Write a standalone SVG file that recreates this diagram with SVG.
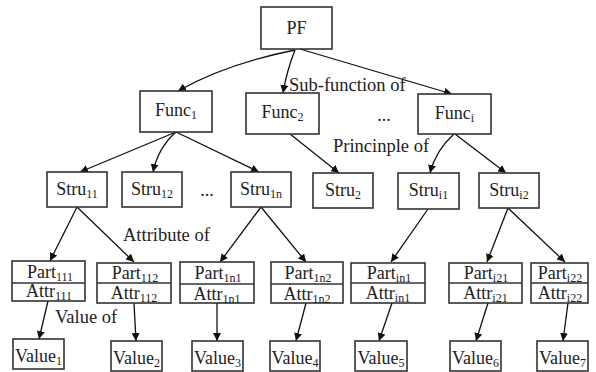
<svg xmlns="http://www.w3.org/2000/svg" width="596" height="372" viewBox="0 0 596 372" font-family="'Liberation Serif', 'Times New Roman', serif">
<defs>
<marker id="ah" viewBox="0 0 10 10" refX="10" refY="5" markerWidth="8" markerHeight="8" markerUnits="userSpaceOnUse" orient="auto">
<path d="M0,0 L10,5 L0,10 z" fill="#111"/>
</marker>
</defs>
<style>
.box{fill:#fff;stroke:#333;stroke-width:1.6}
.div{stroke:#333;stroke-width:1.4}
text{font-family:'Liberation Serif','Times New Roman',serif;font-size:18px;fill:#222}
.lb{font-size:18.5px}
.t{text-anchor:middle}
.s{font-size:12px}
.e{fill:none;stroke:#111;stroke-width:1.3;marker-end:url(#ah)}
</style>
<rect width="596" height="372" fill="#fff"/>
<g id="connectors">
<path class="e" d="M295,50 Q225,64 178,91"/>
<path class="e" d="M295,50 Q287,70 283,93"/>
<path class="e" d="M300,49 L452,94"/>
<path class="e" d="M176,132 L80,172"/>
<path class="e" d="M176,132 Q158,148 153,172"/>
<path class="e" d="M176,132 L259,172"/>
<path class="e" d="M290,134 L339,173"/>
<path class="e" d="M454,134 Q436,150 430,173"/>
<path class="e" d="M455,134 L506,173"/>
<path class="e" d="M77,207 L50,261"/>
<path class="e" d="M77,207 L134,262"/>
<path class="e" d="M261,207 L220,262"/>
<path class="e" d="M261,207 L306,262"/>
<path class="e" d="M428,209 L391,262"/>
<path class="e" d="M508,208 L487,262"/>
<path class="e" d="M508,208 L565,262"/>
<path class="e" d="M48,301 L39,339"/>
<path class="e" d="M134,303 L136,341"/>
<path class="e" d="M217,303 L217,341"/>
<path class="e" d="M306,303 L296,341"/>
<path class="e" d="M392,303 L379,341"/>
<path class="e" d="M488,303 L476,341"/>
<path class="e" d="M568,303 L563,341"/>
</g>
<g id="labels">
<text class="lb" x="289" y="91">Sub-function of</text>
<text class="t" x="384" y="121">...</text>
<text class="lb" x="333" y="152">Princinple of</text>
<text class="t" x="207" y="196">...</text>
<text class="lb" x="123" y="241">Attribute of</text>
<text class="lb" x="55" y="323">Value of</text>
</g>
<g id="PF"><rect class="box" x="261" y="7" width="71" height="42"/><text class="t" x="296.5" y="34">PF</text></g>
<g id="Func1"><rect class="box" x="140" y="91" width="72" height="41"/><text class="t" x="176" y="116">Func<tspan class="s" dy="3">1</tspan></text></g>
<g id="Func2"><rect class="box" x="246" y="93" width="73" height="41"/><text class="t" x="282.5" y="118">Func<tspan class="s" dy="3">2</tspan></text></g>
<g id="Funci"><rect class="box" x="418" y="94" width="73" height="40"/><text class="t" x="454.5" y="119">Func<tspan class="s" dy="3">i</tspan></text></g>
<g id="Stru11"><rect class="box" x="47" y="172" width="60" height="35"/><text class="t" x="77" y="195">Stru<tspan class="s" dy="3">11</tspan></text></g>
<g id="Stru12"><rect class="box" x="122" y="172" width="60" height="35"/><text class="t" x="152" y="195">Stru<tspan class="s" dy="3">12</tspan></text></g>
<g id="Stru1n"><rect class="box" x="231" y="172" width="60" height="35"/><text class="t" x="261" y="195">Stru<tspan class="s" dy="3">1n</tspan></text></g>
<g id="Stru2"><rect class="box" x="313" y="173" width="60" height="35"/><text class="t" x="343" y="196">Stru<tspan class="s" dy="3">2</tspan></text></g>
<g id="Strui1"><rect class="box" x="398" y="173" width="61" height="36"/><text class="t" x="428.5" y="196">Stru<tspan class="s" dy="3">i1</tspan></text></g>
<g id="Strui2"><rect class="box" x="479" y="173" width="60" height="35"/><text class="t" x="509" y="196">Stru<tspan class="s" dy="3">i2</tspan></text></g>
<g id="Part111"><rect class="box" x="12" y="261" width="73" height="40"/><line class="div" x1="12" y1="283" x2="85" y2="283"/><text class="t" x="50" y="278">Part<tspan class="s" dy="3">111</tspan></text><text class="t" x="49" y="297">Attr<tspan class="s" dy="3">111</tspan></text></g>
<g id="Part112"><rect class="box" x="97" y="263" width="74" height="40"/><line class="div" x1="97" y1="283" x2="171" y2="283"/><text class="t" x="135" y="279">Part<tspan class="s" dy="3">112</tspan></text><text class="t" x="134" y="299">Attr<tspan class="s" dy="3">112</tspan></text></g>
<g id="Part1n1"><rect class="box" x="180" y="262" width="74" height="41"/><line class="div" x1="180" y1="284" x2="254" y2="284"/><text class="t" x="218" y="279">Part<tspan class="s" dy="3">1n1</tspan></text><text class="t" x="217" y="300">Attr<tspan class="s" dy="3">1n1</tspan></text></g>
<g id="Part1n2"><rect class="box" x="271" y="262" width="72" height="41"/><line class="div" x1="271" y1="284" x2="343" y2="284"/><text class="t" x="308" y="279">Part<tspan class="s" dy="3">1n2</tspan></text><text class="t" x="307" y="300">Attr<tspan class="s" dy="3">1n2</tspan></text></g>
<g id="Partin1"><rect class="box" x="351" y="263" width="74" height="40"/><line class="div" x1="351" y1="283" x2="425" y2="283"/><text class="t" x="389" y="279">Part<tspan class="s" dy="3">in1</tspan></text><text class="t" x="388" y="299">Attr<tspan class="s" dy="3">in1</tspan></text></g>
<g id="Parti21"><rect class="box" x="449" y="263" width="73" height="40"/><line class="div" x1="449" y1="283" x2="522" y2="283"/><text class="t" x="486" y="279">Part<tspan class="s" dy="3">i21</tspan></text><text class="t" x="485.5" y="299">Attr<tspan class="s" dy="3">i21</tspan></text></g>
<g id="Parti22"><rect class="box" x="531" y="263" width="57" height="40"/><line class="div" x1="531" y1="283" x2="588" y2="283"/><text class="t" x="560" y="279">Part<tspan class="s" dy="3">i22</tspan></text><text class="t" x="560" y="299">Attr<tspan class="s" dy="3">i22</tspan></text></g>
<g id="Value1"><rect class="box" x="13" y="339" width="51" height="30"/><text class="t" x="38.5" y="362">Value<tspan class="s" dy="3">1</tspan></text></g>
<g id="Value2"><rect class="box" x="111" y="341" width="51" height="30"/><text class="t" x="136.5" y="364">Value<tspan class="s" dy="3">2</tspan></text></g>
<g id="Value3"><rect class="box" x="192" y="341" width="51" height="30"/><text class="t" x="217.5" y="364">Value<tspan class="s" dy="3">3</tspan></text></g>
<g id="Value4"><rect class="box" x="270" y="341" width="50" height="30"/><text class="t" x="295" y="364">Value<tspan class="s" dy="3">4</tspan></text></g>
<g id="Value5"><rect class="box" x="355" y="341" width="52" height="30"/><text class="t" x="381" y="364">Value<tspan class="s" dy="3">5</tspan></text></g>
<g id="Value6"><rect class="box" x="450" y="341" width="51" height="30"/><text class="t" x="475.5" y="364">Value<tspan class="s" dy="3">6</tspan></text></g>
<g id="Value7"><rect class="box" x="537" y="341" width="51" height="30"/><text class="t" x="562.5" y="364">Value<tspan class="s" dy="3">7</tspan></text></g>
</svg>
